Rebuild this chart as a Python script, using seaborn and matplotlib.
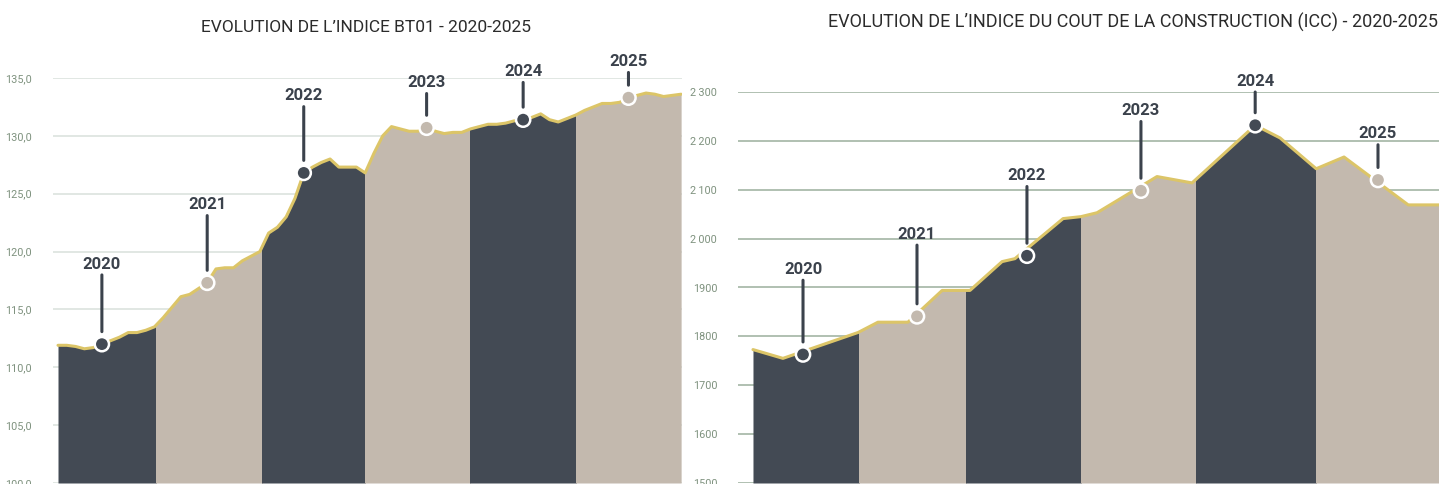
import numpy as np
import pandas as pd
import seaborn as sns
import matplotlib.pyplot as plt
from matplotlib.patches import Rectangle

# BT01 index, monthly, Jan 2020 -> Dec 2025
bt01_month = list(range(72))
bt01_value = [111.9, 111.9, 111.8, 111.6, 111.7, 112.0, 112.3, 112.6, 113.0, 113.0, 113.2, 113.5,
              114.3, 115.2, 116.1, 116.3, 116.8, 117.3, 118.5, 118.6, 118.6, 119.2, 119.6, 120.0,
              121.6, 122.1, 123.0, 124.6, 126.8, 127.3, 127.7, 128.0, 127.3, 127.3, 127.3, 126.8,
              128.5, 130.0, 130.8, 130.6, 130.4, 130.4, 130.7, 130.4, 130.2, 130.3, 130.3, 130.6,
              130.8, 131.0, 131.0, 131.1, 131.3, 131.4, 131.6, 131.9, 131.4, 131.2, 131.5, 131.8,
              132.2, 132.5, 132.8, 132.8, 132.9, 133.3, 133.5, 133.7, 133.6, 133.4, 133.5, 133.6]
bt01_year_bounds = [0, 11.2, 23.3, 35.0, 47.0, 59.0, 71]
bt01_marker_month = [5, 17, 28, 42, 53, 65]
bt01_ticks = [100, 105, 110, 115, 120, 125, 130, 135]
bt01_ticklabels = ['100,0', '105,0', '110,0', '115,0', '120,0', '125,0', '130,0', '135,0']

# ICC index, quarterly (x in quarters since Q1 2020)
icc_quarter = [0.0, 1.12, 3.93, 4.67, 5.79, 7.07, 8.11, 9.31, 9.79, 11.59, 12.26, 12.86,
               15.10, 16.41, 18.77, 19.70, 21.05, 22.09, 24.49, 25.64]
icc_value = [1773, 1755, 1808, 1829, 1829, 1894, 1894, 1953, 1959, 2041, 2045, 2053,
             2127, 2114, 2232, 2206, 2143, 2167, 2069, 2069]
icc_year_bounds = [0, 3.96, 7.96, 12.26, 16.56, 21.05, 25.64]
icc_marker_quarter = [1.87, 6.13, 10.24, 14.5, 18.77, 23.36]
icc_marker_value = [1763, 1841, 1965, 2098, 2232, 2120]
icc_ticks = [1500, 1600, 1700, 1800, 1900, 2000, 2100, 2200, 2300]
icc_ticklabels = ['1500', '1600', '1700', '1800', '1900',
                  '2\u2009000', '2\u2009100', '2\u2009200', '2\u2009300']

years = ['2020', '2021', '2022', '2023', '2024', '2025']

dark = '#434a54'
beige = '#c3b9ae'
gold = '#dcc568'
tick_col = '#7f927f'
label_col = '#3b424c'

sns.set_theme(style='white')
plt.rcParams['font.family'] = ['Roboto', 'DejaVu Sans']

fig = plt.figure(figsize=(14.39, 4.84), dpi=100)
ax1 = fig.add_axes([53 / 1439, 1 / 484, 629 / 1439, 405 / 484])
ax2 = fig.add_axes([738 / 1439, 1 / 484, 701 / 1439, 391 / 484])


def draw_panel(ax, x, y, bounds, mx, my, ylim, xlim, ticks, ticklabels, grid_col, offsets):
    ax.set_ylim(*ylim)
    ax.set_xlim(*xlim)
    for t in ticks:
        ax.axhline(t, color=grid_col, lw=1.2, zorder=0)
    # alternating year blocks under the curve
    for i in range(len(bounds) - 1):
        poly = ax.fill_between(x, y, ylim[0], color=dark if i % 2 == 0 else beige,
                               lw=0, zorder=1)
        clip = Rectangle((bounds[i], ylim[0]), bounds[i + 1] - bounds[i], ylim[1] * 2,
                         transform=ax.transData)
        poly.set_clip_path(clip)
    df = pd.DataFrame({'x': x, 'y': y})
    sns.lineplot(data=df, x='x', y='y', ax=ax, color=gold, lw=2.2, zorder=2)
    cols = [dark if i % 2 == 0 else beige for i in range(len(mx))]
    ax.scatter(mx, my, s=105, c=cols, edgecolors='white', linewidths=1.8, zorder=4,
               clip_on=False)
    for i, yr in enumerate(years):
        ax.annotate(yr, xy=(mx[i], my[i]), xytext=(0, offsets[i]), textcoords='offset pixels',
                    ha='center', va='center', fontsize=12, fontweight='bold', color=label_col,
                    annotation_clip=False,
                    arrowprops=dict(arrowstyle='-', color=label_col, lw=2.2,
                                    shrinkA=0, shrinkB=9))
    ax.set_yticks(ticks)
    ax.set_yticklabels(ticklabels, color=tick_col, fontsize=7.8)
    ax.tick_params(axis='y', length=0, pad=15)
    ax.set_xticks([])
    ax.set_xlabel('')
    ax.set_ylabel('')
    for s in ax.spines.values():
        s.set_visible(False)


draw_panel(ax1, bt01_month, bt01_value, bt01_year_bounds, bt01_marker_month,
           [bt01_value[m] for m in bt01_marker_month], (100, 135), (-0.57, 71.1),
           bt01_ticks, bt01_ticklabels, '#dbe3de', [80, 78, 77, 45, 48, 36])
draw_panel(ax2, icc_quarter, icc_value, icc_year_bounds, icc_marker_quarter, icc_marker_value,
           (1500, 2300), (-0.56, 25.64), icc_ticks, icc_ticklabels, '#a3b5a4',
           [85, 82, 80, 80, 44, 46])

fig.text(366 / 1439, 1 - 28 / 484, 'EVOLUTION DE L\u2019INDICE BT01 - 2020-2025',
         ha='center', va='center', fontsize=12.5, color='#2b2b2b')
fig.text(1133 / 1439, 1 - 22 / 484,
         'EVOLUTION DE L\u2019INDICE DU COUT DE LA CONSTRUCTION (ICC) - 2020-2025',
         ha='center', va='center', fontsize=13, color='#2b2b2b')

fig.savefig('out.png', dpi=100)
